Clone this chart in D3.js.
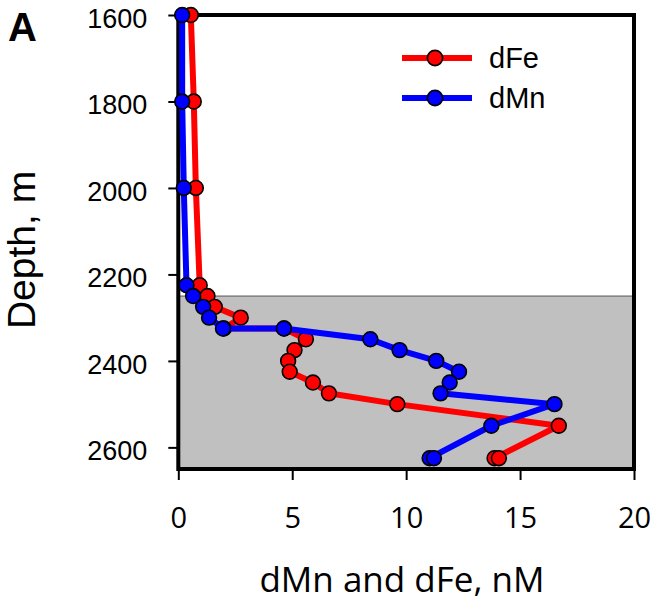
<!DOCTYPE html>
<html>
<head>
    <meta charset='utf-8'>
    <title>dMn and dFe depth profile</title>
    <style>
      body { margin: 0; background: #fff; }
    </style>
</head>
<body>
<script src='https://d3js.org/d3.v7.min.js'></script>
<div id="container"></div>
<script>
// depths in m, values in nM
var depths = [1600, 1800, 2000, 2225, 2250, 2275, 2300, 2325, 2325, 2350, 2375, 2400, 2425, 2450, 2475, 2500, 2550, 2625, 2625];
var dFe = [0.55, 0.68, 0.77, 0.94, 1.28, 1.6, 2.74, 2.0, 4.65, 5.6, 5.1, 4.82, 4.89, 5.91, 6.61, 9.61, 16.7, 13.88, 14.07];
var dMn = [0.17, 0.17, 0.24, 0.36, 0.65, 1.09, 1.35, 1.96, 4.63, 8.43, 9.71, 11.32, 12.32, 11.91, 11.51, 16.51, 13.74, 11.03, 11.22];
var xTicks = [0, 5, 10, 15, 20];
var yTicks = [1600, 1800, 2000, 2200, 2400, 2600];
var shadeFrom = 2250;

const width = 651,
      height = 603,
      margin = {
          top: 15,
          bottom: 134,
          left: 178.3,
          right: 17,
      };

var svg = d3.select("#container").append("svg")
    .attr("width", width)
    .attr("height", height)
    .style("display", "block")

var x = d3.scaleLinear()
    .domain([0, 20])
    .range([margin.left, width - margin.right])

var y = d3.scaleLinear()
    .domain([1600, 2650])
    .range([margin.top, height - margin.bottom])

// grey band for the deep part
svg.append("rect")
    .attr("x", x(0))
    .attr("y", y(shadeFrom))
    .attr("width", x(20) - x(0))
    .attr("height", y(2650) - y(shadeFrom))
    .style("fill", "#c0c0c0")
    .style("stroke", "#555")
    .style("stroke-width", 1)

var yAxis = svg.append("g")
    .attr("transform", `translate(${margin.left}, 0)`)
    .call(d3.axisLeft(y).tickValues(yTicks).tickFormat(d3.format("d")).tickSize(10).tickSizeOuter(0).tickPadding(21))
yAxis.select(".domain").remove()
yAxis.selectAll("line").style("stroke-width", 2)
yAxis.selectAll("text")
    .attr("dy", "0.45em")
    .style("font-family", "Arial, 'Liberation Sans', sans-serif")
    .style("font-size", "27px")

var xAxis = svg.append("g")
    .attr("transform", "translate(0, " + (height - margin.bottom) + ")")
    .call(d3.axisBottom(x).tickValues(xTicks).tickSize(11).tickSizeOuter(0).tickPadding(27))
xAxis.select(".domain").remove()
xAxis.selectAll("line").style("stroke-width", 2)
xAxis.selectAll("text")
    .style("font-family", "'Open Sans', sans-serif")
    .style("font-size", "29px")

// frame
svg.append("rect")
    .attr("x", x(0))
    .attr("y", y(1600))
    .attr("width", x(20) - x(0))
    .attr("height", y(2650) - y(1600))
    .style("fill", "none")
    .style("stroke", "#000")
    .style("stroke-width", 4)

function drawSeries(values, color) {
  var pts = depths.map(function(d, i) { return [values[i], d]; });
  svg.append("path")
      .datum(pts)
      .attr("d", d3.line().x(function(d) { return x(d[0]); }).y(function(d) { return y(d[1]); }))
      .style("fill", "none")
      .style("stroke", color)
      .style("stroke-width", 6)
      .style("stroke-linejoin", "round")
  svg.selectAll(null)
      .data(pts)
      .enter()
      .append("circle")
      .attr("cx", function(d) { return x(d[0]); })
      .attr("cy", function(d) { return y(d[1]); })
      .attr("r", 7.4)
      .style("fill", color)
      .style("stroke", "#000")
      .style("stroke-width", 1.6)
}
drawSeries(dFe, "#ff0000")
drawSeries(dMn, "#0000ff")

// legend
var legend = [["dFe", "#ff0000"], ["dMn", "#0000ff"]];
legend.forEach(function(l, i) {
  var ly = 58 + i * 40;
  svg.append("line")
      .attr("x1", 402).attr("x2", 472)
      .attr("y1", ly).attr("y2", ly)
      .style("stroke", l[1])
      .style("stroke-width", 6)
  svg.append("circle")
      .attr("cx", 435).attr("cy", ly).attr("r", 7.6)
      .style("fill", l[1])
      .style("stroke", "#000")
      .style("stroke-width", 1.6)
  svg.append("text")
      .attr("x", 489).attr("y", ly + 10)
      .style("font-family", "Arial, 'Liberation Sans', sans-serif")
      .style("font-size", "29px")
      .text(l[0])
})

svg.append("text")
    .attr("text-anchor", "middle")
    .attr("transform", "translate(402, 592)")
    .style("font-family", "'Open Sans', sans-serif")
    .style("font-size", "35px")
    .text("dMn and dFe, nM")

svg.append("text")
    .attr("text-anchor", "middle")
    .attr("transform", "translate(35, 250)rotate(-90)")
    .style("font-family", "Arial, 'Liberation Sans', sans-serif")
    .style("font-size", "39px")
    .text("Depth, m")

svg.append("text")
    .attr("transform", "translate(8, 41)")
    .style("font-family", "Arial, 'Liberation Sans', sans-serif")
    .style("font-size", "40px")
    .style("font-weight", "bold")
    .text("A")
</script>
</body>
</html>
